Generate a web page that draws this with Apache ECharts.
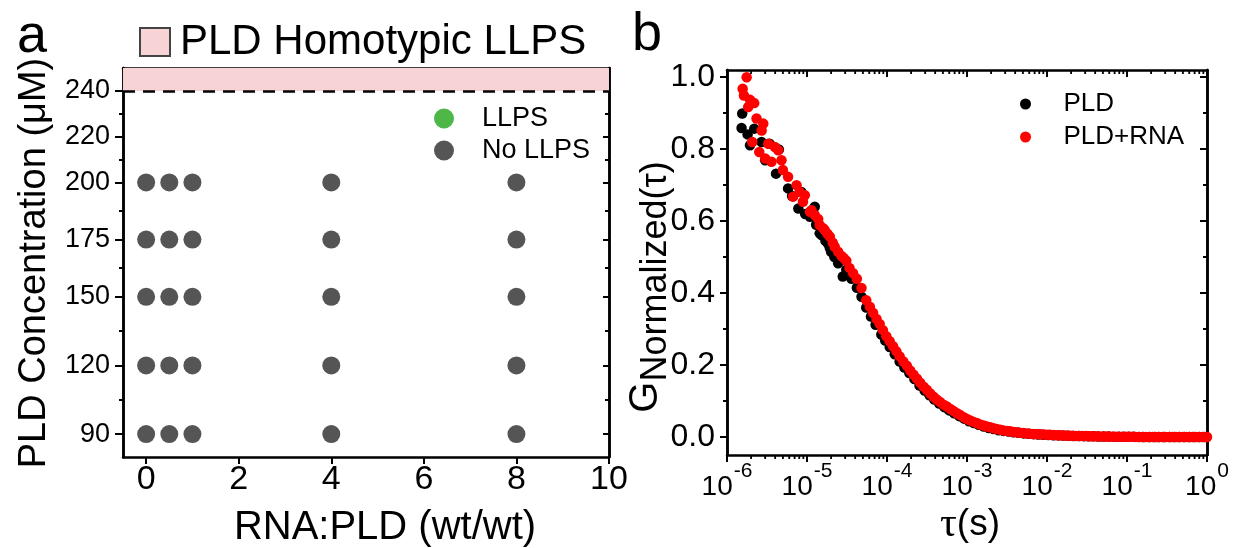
<!DOCTYPE html>
<html><head><meta charset="utf-8">
<script src="https://cdn.jsdelivr.net/npm/echarts@6/dist/echarts.min.js"></script>
<style>html,body{margin:0;padding:0;background:#fff}#c{width:1245px;height:548px}</style>
</head><body><div id="c"></div>
<script>
// ---------- Panel a data ----------
const rnaRatios = [0, 0.5, 1, 4, 8];
const pldConcs = [90, 120, 150, 175, 200];
const llpsPoints = [];
const homotypicThreshold = 240;
const yTicksA = [90, 120, 150, 175, 200, 220, 240];
const yMinorTicksA = [105, 135, 162.5, 187.5, 210, 230];
const xTicksA = [0, 2, 4, 6, 8, 10];
const xTopTicksA = [0, 2, 4, 6, 8];

// ---------- Panel b data ----------
const tauPLD = [1.52e-6,1.55e-6,1.81e-6,1.94e-6,2.19e-6,2.7e-6,3.0e-6,3.4e-6,4.1e-6,4.45e-6,5.8e-6,6.5e-6,7.8e-6,8.5e-6,9.5e-6,1.09e-5,1.25e-5,1.3e-5,1.44e-5,1.52e-5,1.7e-5,1.83e-5,1.93e-5,2.0e-5,2.2e-5,2.45e-5,2.8e-5,3.1e-5,3.6e-5,4.2e-5,4.8e-5,5.5e-5,6.3e-5,7.2e-5,8.5e-5,9.5e-5,1.08e-4,1.25e-4,1.44e-4,1.65e-4,1.9e-4,2.2e-4,2.55e-4,2.95e-4,3.4e-4,3.9e-4,4.5e-4,5.2e-4,6.0e-4,6.9e-4,8.0e-4,9.2e-4,1.06e-3,1.22e-3,1.4e-3,1.62e-3,1.87e-3,2.15e-3,2.48e-3,2.86e-3,3.3e-3,3.8e-3,4.4e-3,5.1e-3,5.9e-3,6.8e-3,7.8e-3,9.0e-3,1.04e-2,1.2e-2,1.4e-2,1.6e-2,1.85e-2,2.15e-2,2.5e-2,2.9e-2,3.3e-2,3.8e-2,4.4e-2,5.1e-2,5.9e-2,6.8e-2,7.9e-2,9.1e-2,0.105,0.122,0.14,0.16,0.19,0.22,0.25,0.29,0.34,0.39,0.45,0.52,0.6,0.69,0.8,0.92];
const gPLD = [0.859,0.899,0.841,0.811,0.857,0.82,0.769,0.815,0.732,0.799,0.691,0.67,0.635,0.681,0.62,0.612,0.64,0.59,0.566,0.561,0.545,0.538,0.525,0.515,0.5,0.483,0.446,0.465,0.44,0.415,0.39,0.36,0.335,0.312,0.285,0.268,0.25,0.23,0.21,0.193,0.178,0.161,0.143,0.129,0.116,0.104,0.093,0.083,0.074,0.066,0.058,0.051,0.044,0.039,0.034,0.029,0.025,0.022,0.019,0.017,0.015,0.013,0.0115,0.010,0.009,0.008,0.007,0.006,0.0055,0.005,0.0045,0.004,0.0035,0.003,0.0027,0.0024,0.0021,0.0018,0.0015,0.0013,0.0011,0.001,0.0008,0.0006,0.0005,0.0004,0.0003,0.0002,0.0002,0.0001,0.0001,0,0,0,0,0,0,0,0,0];
const tauRNA = [1.57e-6,1.63e-6,1.76e-6,1.84e-6,1.94e-6,2.07e-6,2.19e-6,2.34e-6,2.53e-6,2.71e-6,2.84e-6,3.0e-6,3.28e-6,3.6e-6,3.97e-6,4.37e-6,4.8e-6,5.0e-6,5.8e-6,6.7e-6,7.4e-6,8.1e-6,8.9e-6,9.4e-6,1.09e-5,1.14e-5,1.25e-5,1.38e-5,1.44e-5,1.59e-5,1.67e-5,1.8e-5,1.93e-5,2.1e-5,2.22e-5,2.45e-5,2.7e-5,2.9e-5,3.1e-5,3.4e-5,3.77e-5,4.2e-5,4.8e-5,5.5e-5,6.1e-5,6.7e-5,7.4e-5,8.1e-5,8.9e-5,9.8e-5,1.08e-4,1.19e-4,1.31e-4,1.44e-4,1.6e-4,1.77e-4,1.95e-4,2.15e-4,2.37e-4,2.6e-4,2.87e-4,3.15e-4,3.47e-4,3.82e-4,4.2e-4,4.62e-4,5.1e-4,5.6e-4,6.2e-4,6.8e-4,7.5e-4,8.2e-4,9.1e-4,1.0e-3,1.1e-3,1.21e-3,1.33e-3,1.46e-3,1.61e-3,1.77e-3,1.95e-3,2.15e-3,2.36e-3,2.6e-3,2.86e-3,3.15e-3,3.46e-3,3.8e-3,4.2e-3,4.6e-3,5.1e-3,5.6e-3,6.1e-3,6.8e-3,7.4e-3,8.2e-3,9.0e-3,9.9e-3,1.09e-2,1.2e-2,1.32e-2,1.45e-2,1.6e-2,1.76e-2,1.93e-2,2.1e-2,2.3e-2,2.55e-2,2.8e-2,3.1e-2,3.4e-2,3.7e-2,4.1e-2,4.5e-2,5.0e-2,5.5e-2,6.0e-2,6.6e-2,7.3e-2,8.0e-2,8.8e-2,9.7e-2,0.107,0.117,0.129,0.142,0.156,0.172,0.19,0.21,0.23,0.25,0.28,0.3,0.34,0.37,0.41,0.45,0.5,0.55,0.6,0.66,0.73,0.8,0.88,0.97,1.0];
const gRNA = [0.968,0.949,1.0,0.917,0.937,0.82,0.928,0.885,0.792,0.852,0.871,0.774,0.815,0.765,0.806,0.797,0.769,0.742,0.723,0.668,0.70,0.681,0.654,0.672,0.626,0.63,0.617,0.606,0.589,0.58,0.575,0.565,0.557,0.54,0.529,0.515,0.503,0.497,0.49,0.47,0.455,0.44,0.414,0.38,0.362,0.345,0.328,0.314,0.297,0.28,0.266,0.252,0.238,0.224,0.21,0.198,0.185,0.173,0.162,0.151,0.14,0.131,0.121,0.112,0.104,0.097,0.09,0.085,0.078,0.072,0.066,0.061,0.055,0.05,0.046,0.042,0.039,0.035,0.032,0.029,0.027,0.024,0.022,0.02,0.018,0.017,0.016,0.014,0.013,0.012,0.011,0.010,0.009,0.0085,0.008,0.0075,0.007,0.0065,0.006,0.0055,0.005,0.0047,0.0044,0.004,0.0037,0.0034,0.0031,0.0029,0.0027,0.0025,0.0022,0.002,0.0018,0.0016,0.0015,0.0013,0.0012,0.001,0.0009,0.0008,0.0006,0.0005,0.0004,0.0004,0.0003,0.0003,0.0002,0.0002,0.0002,0.0001,0.0001,0.0001,0.0001,0.0001,0,0,0,0,0,0,0,0,0,0,0,0,0];
const yTicksB = [0, 0.2, 0.4, 0.6, 0.8, 1.0];
const yMinorTicksB = [0.1, 0.3, 0.5, 0.7, 0.9];
const logDecades = [1e-6, 1e-5, 1e-4, 1e-3, 1e-2, 1e-1];
const logMinorSteps = [2, 3, 4, 5, 6, 7, 8, 9];

// ---------- build ----------
const FONT = 'Liberation Sans, Arial, sans-serif';
const noLlpsPoints = [];
pldConcs.forEach(c => rnaRatios.forEach(r => noLlpsPoints.push([r, c])));
const pldPts = tauPLD.map((t, i) => [t, gPLD[i]]);
const rnaPts = tauRNA.map((t, i) => [t, gRNA[i]]);
const minorLog = [];
logDecades.forEach(d => logMinorSteps.forEach(s => minorLog.push(d * s)));

const A_YMIN = 80, A_YMAX = 250, A_XMIN = -0.5, A_XMAX = 10;
const B_YMIN = -0.05, B_YMAX = 1.02;
const axisLine = {show: true, onZero: false, lineStyle: {color: '#000', width: 2.5}};
const tickStyle = {color: '#000', width: 2};

function valAxisY(grid, min, max, pos, ticks, len, inside, labels) {
  return {
    type: 'value', gridIndex: grid, min: min, max: max, position: pos,
    axisLine: axisLine, splitLine: {show: false},
    axisTick: {show: true, customValues: ticks, length: len, inside: inside, lineStyle: tickStyle},
    axisLabel: labels ? labels : {show: false}
  };
}

const chart = echarts.init(document.getElementById('c'), null, {renderer: 'canvas'});
const option = {
  animation: false,
  backgroundColor: '#fff',
  grid: [
    {left: 123, top: 68, width: 486, height: 389},
    {left: 727, top: 70, width: 480, height: 385}
  ],
  xAxis: [
    {type: 'value', gridIndex: 0, min: A_XMIN, max: A_XMAX, position: 'bottom',
     axisLine: axisLine, splitLine: {show: false},
     axisTick: {show: true, customValues: xTicksA, length: 7, lineStyle: tickStyle},
     axisLabel: {customValues: xTicksA, fontSize: 34, margin: 6, color: '#000', fontFamily: FONT}},
    {type: 'value', gridIndex: 0, min: A_XMIN, max: A_XMAX, position: 'top',
     axisLine: axisLine, splitLine: {show: false},
     axisTick: {show: true, customValues: xTopTicksA, length: 7, inside: true, lineStyle: tickStyle},
     axisLabel: {show: false}},
    {type: 'log', logBase: 10, gridIndex: 1, min: 1e-6, max: 1, splitNumber: 6, position: 'bottom',
     axisLine: axisLine, splitLine: {show: false}, minorTick: {show: false},
     axisTick: {show: true, length: 7, lineStyle: tickStyle},
     axisLabel: {margin: 10, color: '#000', fontFamily: FONT,
       formatter: v => '{b|10}{s|' + Math.round(Math.log10(v)) + '}',
       rich: {
         b: {fontSize: 28, lineHeight: 28, fontFamily: FONT, color: '#000', padding: [17, 0, 0, 0]},
         s: {fontSize: 21, lineHeight: 21, fontFamily: FONT, color: '#000', padding: [0, 0, 16, 1]}
       }}},
    {type: 'log', logBase: 10, gridIndex: 1, min: 1e-6, max: 1, splitNumber: 6, position: 'top',
     axisLine: axisLine, splitLine: {show: false},
     axisTick: {show: true, length: 7, inside: true, lineStyle: tickStyle},
     axisLabel: {show: false}}
  ],
  yAxis: [
    valAxisY(0, A_YMIN, A_YMAX, 'left', yTicksA, 8, false,
      {customValues: yTicksA, fontSize: 27, margin: 13, color: '#000', fontFamily: FONT}),
    valAxisY(0, A_YMIN, A_YMAX, 'left', yMinorTicksA, 4, false, null),
    valAxisY(0, A_YMIN, A_YMAX, 'right', yTicksA, 6, true, null),
    valAxisY(0, A_YMIN, A_YMAX, 'right', yMinorTicksA, 4, true, null),
    valAxisY(1, B_YMIN, B_YMAX, 'left', yTicksB, 7, false,
      {customValues: yTicksB, fontSize: 32, margin: 12, color: '#000', fontFamily: FONT,
       formatter: v => Number(v).toFixed(1)}),
    valAxisY(1, B_YMIN, B_YMAX, 'left', yMinorTicksB, 4, false, null),
    valAxisY(1, B_YMIN, B_YMAX, 'right', yTicksB, 7, true, null),
    valAxisY(1, B_YMIN, B_YMAX, 'right', yMinorTicksB, 4, true, null)
  ],
  legend: [
    {data: ['LLPS', 'No LLPS'], orient: 'vertical', left: 429, top: 100, icon: 'circle',
     itemWidth: 36, itemHeight: 20, itemGap: 5, selectedMode: false,
     textStyle: {fontSize: 27, lineHeight: 27, fontFamily: FONT, color: '#000', padding: [0, 0, 0, 15]}},
    {data: ['PLD', 'PLD+RNA'], orient: 'vertical', left: 1015, top: 86, icon: 'circle',
     itemWidth: 36, itemHeight: 11, itemGap: 7, selectedMode: false,
     textStyle: {fontSize: 26, lineHeight: 26, fontFamily: FONT, color: '#000', padding: [0, 0, 0, 15]}}
  ],
  series: [
    {name: 'No LLPS', type: 'scatter', xAxisIndex: 0, yAxisIndex: 0, data: noLlpsPoints,
     symbolSize: 18, itemStyle: {color: '#555555', opacity: 1}, z: 5,
     markArea: {silent: true, itemStyle: {color: '#F8D3D5', opacity: 1},
       data: [[{yAxis: homotypicThreshold}, {yAxis: A_YMAX}]]},
     markLine: {silent: true, symbol: ['none', 'none'], label: {show: false},
       lineStyle: {color: '#000', type: [12, 8], width: 2.5, opacity: 1},
       data: [{yAxis: homotypicThreshold}]}},
    {name: 'LLPS', type: 'scatter', xAxisIndex: 0, yAxisIndex: 0, data: llpsPoints,
     symbolSize: 18, itemStyle: {color: '#4DB748', opacity: 1}},
    {name: 'PLD', type: 'scatter', xAxisIndex: 2, yAxisIndex: 4, data: pldPts,
     symbolSize: 10.5, itemStyle: {color: '#000', opacity: 1}, z: 2},
    {name: 'PLD+RNA', type: 'scatter', xAxisIndex: 2, yAxisIndex: 4, data: rnaPts,
     symbolSize: 10.5, itemStyle: {color: '#FF0000', opacity: 1}, z: 3},
    {name: 'minorBottom', type: 'scatter', xAxisIndex: 2, yAxisIndex: 4, clip: false, silent: true,
     data: minorLog.map(v => [v, B_YMIN]), symbol: 'rect', symbolSize: [1.8, 4], symbolOffset: [0, 2],
     itemStyle: {color: '#000', opacity: 1}, z: 10, emphasis: {disabled: true}},
    {name: 'minorTop', type: 'scatter', xAxisIndex: 2, yAxisIndex: 4, clip: false, silent: true,
     data: minorLog.map(v => [v, B_YMAX]), symbol: 'rect', symbolSize: [1.8, 4], symbolOffset: [0, 2],
     itemStyle: {color: '#000', opacity: 1}, z: 10, emphasis: {disabled: true}}
  ],
  graphic: [
    {type: 'text', x: 17, y: 37, style: {text: 'a', font: '54px ' + FONT, fill: '#000', align: 'left', verticalAlign: 'middle'}},
    {type: 'text', x: 632, y: 35, style: {text: 'b', font: '54px ' + FONT, fill: '#000', align: 'left', verticalAlign: 'middle'}},
    {type: 'rect', shape: {x: 140, y: 28, width: 30, height: 28}, style: {fill: '#F8D3D5', stroke: '#444', lineWidth: 2}},
    {type: 'text', x: 180, y: 42, style: {text: 'PLD Homotypic LLPS', font: '42px ' + FONT, fill: '#000', align: 'left', verticalAlign: 'middle'}},
    {type: 'text', x: 35, y: 263, rotation: Math.PI / 2, style: {text: 'PLD Concentration (μM)', font: '38px ' + FONT, fill: '#000', align: 'center', verticalAlign: 'middle'}},
    {type: 'text', x: 385, y: 528, style: {text: 'RNA:PLD (wt/wt)', font: '40px ' + FONT, fill: '#000', align: 'center', verticalAlign: 'middle'}},
    {type: 'text', x: 970, y: 525, style: {text: '{t|τ}{n|(s)}', align: 'center', verticalAlign: 'middle',
      rich: {t: {fontSize: 42, fontFamily: 'Liberation Serif, serif', color: '#000'},
             n: {fontSize: 37, fontFamily: FONT, color: '#000'}}}},
    {type: 'text', x: 646, y: 287, rotation: Math.PI / 2, style: {text: '{g|G}{n|Normalized(τ)}', align: 'center', verticalAlign: 'middle',
      rich: {g: {fontSize: 40, lineHeight: 40, fontFamily: FONT, color: '#000'},
             n: {fontSize: 36, lineHeight: 36, fontFamily: FONT, color: '#000', padding: [20, 0, 0, 0]}}}}
  ]
};
chart.setOption(option);
</script></body></html>
